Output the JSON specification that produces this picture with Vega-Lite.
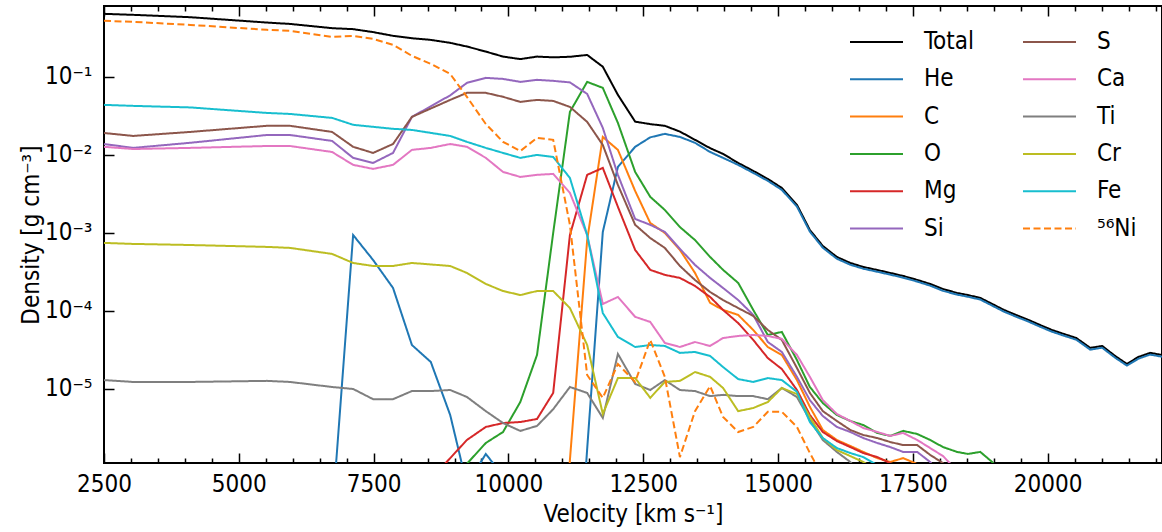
{
"$schema":"https://vega.github.io/schema/vega-lite/v6.json",
"autosize":{"type":"none"},
"padding":{"left":104,"top":6,"right":0,"bottom":69},
"width":1058,"height":457,
"config":{"view":{"stroke":"black","strokeWidth":2},"font":"DejaVu Sans Condensed, DejaVu Sans"},
"data":{"values":[
{"s":"Total","v":2500,"d":0.643},{"s":"Total","v":3040,"d":0.624},{"s":"Total","v":4100,"d":0.582},{"s":"Total","v":5520,"d":0.497},{"s":"Total","v":5950,"d":0.477},{"s":"Total","v":6730,"d":0.421},{"s":"Total","v":7120,"d":0.409},{"s":"Total","v":7490,"d":0.375},{"s":"Total","v":7860,"d":0.336},{"s":"Total","v":8210,"d":0.313},{"s":"Total","v":8560,"d":0.298},{"s":"Total","v":8920,"d":0.273},{"s":"Total","v":9230,"d":0.245},{"s":"Total","v":9580,"d":0.211},{"s":"Total","v":9900,"d":0.182},{"s":"Total","v":10220,"d":0.169},{"s":"Total","v":10530,"d":0.182},{"s":"Total","v":10830,"d":0.178},{"s":"Total","v":11140,"d":0.181},{"s":"Total","v":11460,"d":0.191},{"s":"Total","v":11750,"d":0.135},{"s":"Total","v":12030,"d":0.0588},{"s":"Total","v":12350,"d":0.0267},{"s":"Total","v":12630,"d":0.0248},{"s":"Total","v":12900,"d":0.0236},{"s":"Total","v":13180,"d":0.0199},{"s":"Total","v":13460,"d":0.0156},{"s":"Total","v":13740,"d":0.0122},{"s":"Total","v":13980,"d":0.0103},{"s":"Total","v":14260,"d":0.00789},{"s":"Total","v":14540,"d":0.00624},{"s":"Total","v":14810,"d":0.00492},{"s":"Total","v":15070,"d":0.00377},{"s":"Total","v":15350,"d":0.00229},{"s":"Total","v":15590,"d":0.00109},{"s":"Total","v":15830,"d":0.00068},{"s":"Total","v":16090,"d":0.000492},{"s":"Total","v":16340,"d":0.000412},{"s":"Total","v":16580,"d":0.000366},{"s":"Total","v":16840,"d":0.000335},{"s":"Total","v":17080,"d":0.000307},{"s":"Total","v":17320,"d":0.000281},{"s":"Total","v":17580,"d":0.00025},{"s":"Total","v":17820,"d":0.000222},{"s":"Total","v":18060,"d":0.000191},{"s":"Total","v":18320,"d":0.00017},{"s":"Total","v":18520,"d":0.00016},{"s":"Total","v":18750,"d":0.000147},{"s":"Total","v":18970,"d":0.000123},{"s":"Total","v":19190,"d":0.000103},{"s":"Total","v":19410,"d":0.000089},{"s":"Total","v":19640,"d":0.000077},{"s":"Total","v":19860,"d":0.000066},{"s":"Total","v":20080,"d":0.000057},{"s":"Total","v":20300,"d":0.0000507},{"s":"Total","v":20530,"d":0.000045},{"s":"Total","v":20790,"d":0.0000336},{"s":"Total","v":21010,"d":0.0000356},{"s":"Total","v":21250,"d":0.0000265},{"s":"Total","v":21470,"d":0.0000209},{"s":"Total","v":21680,"d":0.0000257},{"s":"Total","v":21900,"d":0.000029},{"s":"Total","v":22120,"d":0.0000273},
{"s":"He","v":6730,"d":2.3e-7},{"s":"He","v":7120,"d":9.4e-4},{"s":"He","v":7490,"d":4.5e-4},{"s":"He","v":7860,"d":1.97e-4},{"s":"He","v":8210,"d":3.66e-5},{"s":"He","v":8560,"d":2.22e-5},{"s":"He","v":8920,"d":4.64e-6},{"s":"He","v":9230,"d":5.9e-7},{"s":"He","v":9580,"d":1.47e-6},{"s":"He","v":9900,"d":7.7e-7},{"s":"He","v":11140,"d":1e-9},{"s":"He","v":11460,"d":1.7e-6},{"s":"He","v":11750,"d":1.03e-3},{"s":"He","v":12030,"d":0.007},{"s":"He","v":12350,"d":0.0127},{"s":"He","v":12630,"d":0.0168},{"s":"He","v":12900,"d":0.0186},{"s":"He","v":13180,"d":0.017},{"s":"He","v":13460,"d":0.0143},{"s":"He","v":13740,"d":0.0109},{"s":"He","v":13980,"d":0.00916},{"s":"He","v":14260,"d":0.00745},{"s":"He","v":14540,"d":0.00588},{"s":"He","v":14810,"d":0.00465},{"s":"He","v":15070,"d":0.00356},{"s":"He","v":15350,"d":0.00218},{"s":"He","v":15590,"d":0.00104},{"s":"He","v":15830,"d":0.000646},{"s":"He","v":16090,"d":0.000467},{"s":"He","v":16340,"d":0.000391},{"s":"He","v":16580,"d":0.000348},{"s":"He","v":16840,"d":0.000318},{"s":"He","v":17080,"d":0.000292},{"s":"He","v":17320,"d":0.000267},{"s":"He","v":17580,"d":0.000238},{"s":"He","v":17820,"d":0.000211},{"s":"He","v":18060,"d":0.000181},{"s":"He","v":18320,"d":0.000162},{"s":"He","v":18520,"d":0.000152},{"s":"He","v":18750,"d":0.00014},{"s":"He","v":18970,"d":0.000117},{"s":"He","v":19190,"d":0.0000979},{"s":"He","v":19410,"d":0.0000846},{"s":"He","v":19640,"d":0.0000732},{"s":"He","v":19860,"d":0.0000627},{"s":"He","v":20080,"d":0.0000542},{"s":"He","v":20300,"d":0.0000482},{"s":"He","v":20530,"d":0.0000428},{"s":"He","v":20790,"d":0.0000319},{"s":"He","v":21010,"d":0.0000338},{"s":"He","v":21250,"d":0.0000252},{"s":"He","v":21470,"d":0.0000199},{"s":"He","v":21680,"d":0.0000244},{"s":"He","v":21900,"d":0.0000276},{"s":"He","v":22120,"d":0.0000259},
{"s":"C","v":10830,"d":1e-9},{"s":"C","v":11140,"d":1.23e-6},{"s":"C","v":11460,"d":8.1e-4},{"s":"C","v":11750,"d":0.017},{"s":"C","v":12030,"d":0.0116},{"s":"C","v":12350,"d":0.00345},{"s":"C","v":12630,"d":0.00134},{"s":"C","v":12900,"d":0.001},{"s":"C","v":13180,"d":6.05e-4},{"s":"C","v":13460,"d":3.07e-4},{"s":"C","v":13740,"d":1.27e-4},{"s":"C","v":13980,"d":1.03e-4},{"s":"C","v":14260,"d":8.9e-5},{"s":"C","v":14540,"d":5.7e-5},{"s":"C","v":14810,"d":3.45e-5},{"s":"C","v":15070,"d":2.73e-5},{"s":"C","v":15350,"d":1.3e-5},{"s":"C","v":15590,"d":5.9e-6},{"s":"C","v":15830,"d":2.98e-6},{"s":"C","v":16090,"d":2.22e-6},{"s":"C","v":16340,"d":1.86e-6},{"s":"C","v":16580,"d":1.56e-6},{"s":"C","v":16840,"d":1.3e-6},{"s":"C","v":17080,"d":1.16e-6},{"s":"C","v":17320,"d":1.3e-6},{"s":"C","v":17580,"d":1.09e-6},{"s":"C","v":17820,"d":6.8e-7},{"s":"C","v":18060,"d":3e-7},
{"s":"O","v":8560,"d":1e-8},{"s":"O","v":8920,"d":6e-7},{"s":"O","v":9230,"d":1.1e-6},{"s":"O","v":9580,"d":2.03e-6},{"s":"O","v":9900,"d":2.81e-6},{"s":"O","v":10220,"d":6.8e-6},{"s":"O","v":10530,"d":2.73e-5},{"s":"O","v":10830,"d":1.0e-3},{"s":"O","v":11140,"d":0.0356},{"s":"O","v":11460,"d":0.0863},{"s":"O","v":11750,"d":0.0723},{"s":"O","v":12030,"d":0.0257},{"s":"O","v":12350,"d":0.00605},{"s":"O","v":12630,"d":0.0029},{"s":"O","v":12900,"d":0.00197},{"s":"O","v":13180,"d":0.00119},{"s":"O","v":13460,"d":8.1e-4},{"s":"O","v":13740,"d":4.92e-4},{"s":"O","v":13980,"d":3.36e-4},{"s":"O","v":14260,"d":2.29e-4},{"s":"O","v":14540,"d":1.03e-4},{"s":"O","v":14810,"d":4.92e-5},{"s":"O","v":15070,"d":5.38e-5},{"s":"O","v":15350,"d":2.35e-5},{"s":"O","v":15590,"d":1.06e-5},{"s":"O","v":15830,"d":6.6e-6},{"s":"O","v":16090,"d":4.64e-6},{"s":"O","v":16340,"d":3.89e-6},{"s":"O","v":16580,"d":3.45e-6},{"s":"O","v":16840,"d":2.73e-6},{"s":"O","v":17080,"d":2.5e-6},{"s":"O","v":17320,"d":2.9e-6},{"s":"O","v":17580,"d":2.65e-6},{"s":"O","v":17820,"d":2.22e-6},{"s":"O","v":18060,"d":1.8e-6},{"s":"O","v":18320,"d":1.56e-6},{"s":"O","v":18520,"d":1.47e-6},{"s":"O","v":18750,"d":1.56e-6},{"s":"O","v":18970,"d":1.16e-6},{"s":"O","v":19190,"d":7.5e-7},{"s":"O","v":19410,"d":3e-7},
{"s":"Mg","v":8560,"d":6.9e-7},{"s":"Mg","v":8920,"d":1.3e-6},{"s":"Mg","v":9230,"d":2.22e-6},{"s":"Mg","v":9580,"d":3.26e-6},{"s":"Mg","v":9900,"d":3.66e-6},{"s":"Mg","v":10220,"d":3.77e-6},{"s":"Mg","v":10530,"d":4.12e-6},{"s":"Mg","v":10830,"d":8.9e-6},{"s":"Mg","v":11140,"d":9.4e-4},{"s":"Mg","v":11460,"d":0.00555},{"s":"Mg","v":11750,"d":0.00681},{"s":"Mg","v":12030,"d":0.00216},{"s":"Mg","v":12350,"d":6.05e-4},{"s":"Mg","v":12630,"d":3.36e-4},{"s":"Mg","v":12900,"d":2.9e-4},{"s":"Mg","v":13180,"d":2.65e-4},{"s":"Mg","v":13460,"d":2.09e-4},{"s":"Mg","v":13740,"d":1.51e-4},{"s":"Mg","v":13980,"d":1.03e-4},{"s":"Mg","v":14260,"d":7.0e-5},{"s":"Mg","v":14540,"d":4.25e-5},{"s":"Mg","v":14810,"d":2.49e-5},{"s":"Mg","v":15070,"d":1.8e-5},{"s":"Mg","v":15350,"d":9.7e-6},{"s":"Mg","v":15590,"d":4.64e-6},{"s":"Mg","v":15830,"d":2.81e-6},{"s":"Mg","v":16090,"d":2.15e-6},{"s":"Mg","v":16340,"d":1.8e-6},{"s":"Mg","v":16580,"d":1.51e-6},{"s":"Mg","v":16840,"d":1.34e-6},{"s":"Mg","v":17080,"d":1.12e-6},{"s":"Mg","v":17320,"d":7.5e-7},
{"s":"Si","v":2500,"d":0.0138},{"s":"Si","v":3040,"d":0.0123},{"s":"Si","v":4100,"d":0.0143},{"s":"Si","v":5520,"d":0.018},{"s":"Si","v":5950,"d":0.018},{"s":"Si","v":6730,"d":0.0151},{"s":"Si","v":7120,"d":0.00916},{"s":"Si","v":7490,"d":0.00789},{"s":"Si","v":7860,"d":0.0106},{"s":"Si","v":8210,"d":0.0307},{"s":"Si","v":8920,"d":0.058},{"s":"Si","v":9230,"d":0.0838},{"s":"Si","v":9580,"d":0.0971},{"s":"Si","v":9900,"d":0.0942},{"s":"Si","v":10220,"d":0.0863},{"s":"Si","v":10530,"d":0.0916},{"s":"Si","v":10830,"d":0.0889},{"s":"Si","v":11140,"d":0.085},{"s":"Si","v":11460,"d":0.0605},{"s":"Si","v":11750,"d":0.0222},{"s":"Si","v":12030,"d":0.00555},{"s":"Si","v":12350,"d":0.00151},{"s":"Si","v":12630,"d":0.00127},{"s":"Si","v":12900,"d":0.00103},{"s":"Si","v":13180,"d":0.000624},{"s":"Si","v":13460,"d":0.000389},{"s":"Si","v":13740,"d":0.000265},{"s":"Si","v":13980,"d":0.000197},{"s":"Si","v":14260,"d":0.000138},{"s":"Si","v":14540,"d":0.000089},{"s":"Si","v":14810,"d":0.00004},{"s":"Si","v":15070,"d":0.0000298},{"s":"Si","v":15350,"d":0.0000143},{"s":"Si","v":15590,"d":0.0000072},{"s":"Si","v":15830,"d":0.0000045},{"s":"Si","v":16090,"d":0.00000326},{"s":"Si","v":16340,"d":0.00000281},{"s":"Si","v":16580,"d":0.00000235},{"s":"Si","v":16840,"d":0.00000203},{"s":"Si","v":17080,"d":0.0000018},{"s":"Si","v":17320,"d":0.00000156},{"s":"Si","v":17580,"d":0.00000156},{"s":"Si","v":17820,"d":0.00000116},{"s":"Si","v":18060,"d":0.00000071},
{"s":"S","v":2500,"d":0.0191},{"s":"S","v":3040,"d":0.0175},{"s":"S","v":4100,"d":0.0197},{"s":"S","v":5520,"d":0.0236},{"s":"S","v":5950,"d":0.0236},{"s":"S","v":6730,"d":0.0197},{"s":"S","v":7120,"d":0.0127},{"s":"S","v":7490,"d":0.0106},{"s":"S","v":7860,"d":0.0138},{"s":"S","v":8210,"d":0.0307},{"s":"S","v":8920,"d":0.0507},{"s":"S","v":9230,"d":0.0624},{"s":"S","v":9580,"d":0.0624},{"s":"S","v":9900,"d":0.0555},{"s":"S","v":10220,"d":0.0478},{"s":"S","v":10530,"d":0.0507},{"s":"S","v":10830,"d":0.0492},{"s":"S","v":11140,"d":0.0412},{"s":"S","v":11460,"d":0.0265},{"s":"S","v":11750,"d":0.0134},{"s":"S","v":12030,"d":0.00412},{"s":"S","v":12350,"d":0.00127},{"s":"S","v":12630,"d":0.00086},{"s":"S","v":12900,"d":0.000643},{"s":"S","v":13180,"d":0.000377},{"s":"S","v":13460,"d":0.000249},{"s":"S","v":13740,"d":0.000175},{"s":"S","v":13980,"d":0.000138},{"s":"S","v":14260,"d":0.000109},{"s":"S","v":14540,"d":0.0000863},{"s":"S","v":14810,"d":0.000057},{"s":"S","v":15070,"d":0.0000425},{"s":"S","v":15350,"d":0.0000186},{"s":"S","v":15590,"d":0.0000089},{"s":"S","v":15830,"d":0.0000052},{"s":"S","v":16090,"d":0.00000389},{"s":"S","v":16340,"d":0.00000298},{"s":"S","v":16580,"d":0.00000257},{"s":"S","v":16840,"d":0.00000235},{"s":"S","v":17080,"d":0.00000209},{"s":"S","v":17320,"d":0.00000191},{"s":"S","v":17580,"d":0.00000191},{"s":"S","v":17820,"d":0.00000143},{"s":"S","v":18060,"d":0.00000112},{"s":"S","v":18320,"d":0.00000068},
{"s":"Ca","v":2500,"d":0.0127},{"s":"Ca","v":3040,"d":0.0119},{"s":"Ca","v":4100,"d":0.0123},{"s":"Ca","v":5520,"d":0.013},{"s":"Ca","v":5950,"d":0.013},{"s":"Ca","v":6730,"d":0.0109},{"s":"Ca","v":7120,"d":0.00745},{"s":"Ca","v":7490,"d":0.00662},{"s":"Ca","v":7860,"d":0.00745},{"s":"Ca","v":8210,"d":0.0116},{"s":"Ca","v":8560,"d":0.0123},{"s":"Ca","v":8920,"d":0.0138},{"s":"Ca","v":9230,"d":0.0127},{"s":"Ca","v":9580,"d":0.00916},{"s":"Ca","v":9900,"d":0.00605},{"s":"Ca","v":10220,"d":0.00522},{"s":"Ca","v":10530,"d":0.00555},{"s":"Ca","v":10830,"d":0.00571},{"s":"Ca","v":11140,"d":0.00326},{"s":"Ca","v":11460,"d":0.00094},{"s":"Ca","v":11750,"d":0.000123},{"s":"Ca","v":12030,"d":0.000151},{"s":"Ca","v":12350,"d":0.000084},{"s":"Ca","v":12630,"d":0.0000723},{"s":"Ca","v":12900,"d":0.0000389},{"s":"Ca","v":13180,"d":0.0000345},{"s":"Ca","v":13460,"d":0.00004},{"s":"Ca","v":13740,"d":0.0000356},{"s":"Ca","v":13980,"d":0.000045},{"s":"Ca","v":14260,"d":0.0000478},{"s":"Ca","v":14540,"d":0.0000492},{"s":"Ca","v":14810,"d":0.0000478},{"s":"Ca","v":15070,"d":0.0000438},{"s":"Ca","v":15350,"d":0.0000273},{"s":"Ca","v":15590,"d":0.0000143},{"s":"Ca","v":15830,"d":0.0000072},{"s":"Ca","v":16090,"d":0.00000478},{"s":"Ca","v":16340,"d":0.00000389},{"s":"Ca","v":16580,"d":0.00000316},{"s":"Ca","v":16840,"d":0.00000281},{"s":"Ca","v":17080,"d":0.0000025},{"s":"Ca","v":17320,"d":0.00000273},{"s":"Ca","v":17580,"d":0.00000222},{"s":"Ca","v":17820,"d":0.00000175},{"s":"Ca","v":18060,"d":0.00000138},{"s":"Ca","v":18320,"d":0.00000089},
{"s":"Ti","v":2500,"d":1.3e-5},{"s":"Ti","v":3040,"d":1.23e-5},{"s":"Ti","v":4100,"d":1.23e-5},{"s":"Ti","v":5520,"d":1.27e-5},{"s":"Ti","v":5950,"d":1.23e-5},{"s":"Ti","v":6730,"d":1.06e-5},{"s":"Ti","v":7120,"d":1.0e-5},{"s":"Ti","v":7490,"d":7.4e-6},{"s":"Ti","v":7860,"d":7.4e-6},{"s":"Ti","v":8210,"d":9.4e-6},{"s":"Ti","v":8560,"d":9.4e-6},{"s":"Ti","v":8920,"d":9.7e-6},{"s":"Ti","v":9230,"d":7.9e-6},{"s":"Ti","v":9580,"d":5.2e-6},{"s":"Ti","v":9900,"d":3.66e-6},{"s":"Ti","v":10220,"d":2.9e-6},{"s":"Ti","v":10530,"d":3.36e-6},{"s":"Ti","v":10830,"d":5.5e-6},{"s":"Ti","v":11140,"d":1.06e-5},{"s":"Ti","v":11460,"d":8.9e-6},{"s":"Ti","v":11750,"d":4.25e-6},{"s":"Ti","v":12030,"d":2.81e-5},{"s":"Ti","v":12350,"d":1.16e-5},{"s":"Ti","v":12630,"d":9.7e-6},{"s":"Ti","v":12900,"d":1.3e-5},{"s":"Ti","v":13180,"d":9.7e-6},{"s":"Ti","v":13460,"d":9.4e-6},{"s":"Ti","v":13740,"d":8.1e-6},{"s":"Ti","v":13980,"d":8.4e-6},{"s":"Ti","v":14260,"d":8.1e-6},{"s":"Ti","v":14540,"d":8.1e-6},{"s":"Ti","v":14810,"d":7.4e-6},{"s":"Ti","v":15070,"d":1.03e-5},{"s":"Ti","v":15350,"d":7.9e-6},{"s":"Ti","v":15590,"d":4.0e-6},{"s":"Ti","v":15830,"d":2.22e-6},{"s":"Ti","v":16090,"d":1.56e-6},{"s":"Ti","v":16340,"d":1.16e-6},{"s":"Ti","v":16580,"d":7.5e-7},
{"s":"Cr","v":2500,"d":7.45e-4},{"s":"Cr","v":3040,"d":7.23e-4},{"s":"Cr","v":4100,"d":7.0e-4},{"s":"Cr","v":5520,"d":6.62e-4},{"s":"Cr","v":5950,"d":6.43e-4},{"s":"Cr","v":6730,"d":5.38e-4},{"s":"Cr","v":7120,"d":4.12e-4},{"s":"Cr","v":7490,"d":3.77e-4},{"s":"Cr","v":7860,"d":3.77e-4},{"s":"Cr","v":8210,"d":4.12e-4},{"s":"Cr","v":8920,"d":3.77e-4},{"s":"Cr","v":9230,"d":3.07e-4},{"s":"Cr","v":9580,"d":2.22e-4},{"s":"Cr","v":9900,"d":1.8e-4},{"s":"Cr","v":10220,"d":1.6e-4},{"s":"Cr","v":10530,"d":1.8e-4},{"s":"Cr","v":10830,"d":1.8e-4},{"s":"Cr","v":11140,"d":1.09e-4},{"s":"Cr","v":11460,"d":3.66e-5},{"s":"Cr","v":11750,"d":4.78e-6},{"s":"Cr","v":12030,"d":1.38e-5},{"s":"Cr","v":12350,"d":1.38e-5},{"s":"Cr","v":12630,"d":7.7e-6},{"s":"Cr","v":12900,"d":1.23e-5},{"s":"Cr","v":13180,"d":1.27e-5},{"s":"Cr","v":13460,"d":1.65e-5},{"s":"Cr","v":13740,"d":1.43e-5},{"s":"Cr","v":13980,"d":1.03e-5},{"s":"Cr","v":14260,"d":5.2e-6},{"s":"Cr","v":14540,"d":5.7e-6},{"s":"Cr","v":14810,"d":6.8e-6},{"s":"Cr","v":15070,"d":1.03e-5},{"s":"Cr","v":15350,"d":8.6e-6},{"s":"Cr","v":15590,"d":4.38e-6},{"s":"Cr","v":15830,"d":2.35e-6},{"s":"Cr","v":16090,"d":1.65e-6},{"s":"Cr","v":16340,"d":1.38e-6},{"s":"Cr","v":16580,"d":1.16e-6},{"s":"Cr","v":16840,"d":8.9e-7},
{"s":"Fe","v":2500,"d":0.0438},{"s":"Fe","v":3040,"d":0.0425},{"s":"Fe","v":4100,"d":0.0406},{"s":"Fe","v":5520,"d":0.0345},{"s":"Fe","v":5950,"d":0.0335},{"s":"Fe","v":6730,"d":0.0298},{"s":"Fe","v":7120,"d":0.0243},{"s":"Fe","v":7860,"d":0.0216},{"s":"Fe","v":8210,"d":0.0209},{"s":"Fe","v":8920,"d":0.0175},{"s":"Fe","v":9230,"d":0.0147},{"s":"Fe","v":9580,"d":0.0123},{"s":"Fe","v":9900,"d":0.0106},{"s":"Fe","v":10220,"d":0.00916},{"s":"Fe","v":10530,"d":0.01},{"s":"Fe","v":10830,"d":0.00942},{"s":"Fe","v":11140,"d":0.00507},{"s":"Fe","v":11460,"d":0.00094},{"s":"Fe","v":11750,"d":9.4e-5},{"s":"Fe","v":12030,"d":4.64e-5},{"s":"Fe","v":12350,"d":3.45e-5},{"s":"Fe","v":12630,"d":3.66e-5},{"s":"Fe","v":12900,"d":3.56e-5},{"s":"Fe","v":13180,"d":2.9e-5},{"s":"Fe","v":13460,"d":2.98e-5},{"s":"Fe","v":13740,"d":2.65e-5},{"s":"Fe","v":13980,"d":1.91e-5},{"s":"Fe","v":14260,"d":1.34e-5},{"s":"Fe","v":14540,"d":1.23e-5},{"s":"Fe","v":14810,"d":1.38e-5},{"s":"Fe","v":15070,"d":1.3e-5},{"s":"Fe","v":15350,"d":9.2e-6},{"s":"Fe","v":15590,"d":3.77e-6},{"s":"Fe","v":15830,"d":2.35e-6},{"s":"Fe","v":16090,"d":1.75e-6},{"s":"Fe","v":16340,"d":1.51e-6},{"s":"Fe","v":16580,"d":1.34e-6},{"s":"Fe","v":16840,"d":1.06e-6},{"s":"Fe","v":17080,"d":6.8e-7},
{"s":"⁵⁶Ni","v":2500,"d":0.523},{"s":"⁵⁶Ni","v":3040,"d":0.507},{"s":"⁵⁶Ni","v":4100,"d":0.464},{"s":"⁵⁶Ni","v":5520,"d":0.401},{"s":"⁵⁶Ni","v":5950,"d":0.389},{"s":"⁵⁶Ni","v":6730,"d":0.326},{"s":"⁵⁶Ni","v":7120,"d":0.336},{"s":"⁵⁶Ni","v":7490,"d":0.307},{"s":"⁵⁶Ni","v":7860,"d":0.257},{"s":"⁵⁶Ni","v":8210,"d":0.186},{"s":"⁵⁶Ni","v":8560,"d":0.147},{"s":"⁵⁶Ni","v":8920,"d":0.109},{"s":"⁵⁶Ni","v":9230,"d":0.0555},{"s":"⁵⁶Ni","v":9580,"d":0.0249},{"s":"⁵⁶Ni","v":9900,"d":0.0147},{"s":"⁵⁶Ni","v":10220,"d":0.0112},{"s":"⁵⁶Ni","v":10530,"d":0.0165},{"s":"⁵⁶Ni","v":10830,"d":0.0156},{"s":"⁵⁶Ni","v":11140,"d":0.00127},{"s":"⁵⁶Ni","v":11460,"d":1.51e-5},{"s":"⁵⁶Ni","v":11750,"d":7.7e-6},{"s":"⁵⁶Ni","v":12030,"d":2.09e-5},{"s":"⁵⁶Ni","v":12350,"d":1.23e-5},{"s":"⁵⁶Ni","v":12630,"d":4.25e-5},{"s":"⁵⁶Ni","v":12900,"d":1.43e-5},{"s":"⁵⁶Ni","v":13180,"d":1.34e-6},{"s":"⁵⁶Ni","v":13460,"d":5.2e-6},{"s":"⁵⁶Ni","v":13740,"d":1.09e-5},{"s":"⁵⁶Ni","v":13980,"d":4.38e-6},{"s":"⁵⁶Ni","v":14260,"d":2.81e-6},{"s":"⁵⁶Ni","v":14540,"d":3.26e-6},{"s":"⁵⁶Ni","v":14810,"d":5.1e-6},{"s":"⁵⁶Ni","v":15070,"d":5.1e-6},{"s":"⁵⁶Ni","v":15350,"d":3.26e-6},{"s":"⁵⁶Ni","v":15590,"d":1.51e-6},{"s":"⁵⁶Ni","v":15830,"d":7.5e-7},{"s":"⁵⁶Ni","v":16090,"d":3e-7}
]},
"layer":[
{"mark":{"type":"line","clip":true,"strokeWidth":2},
 "encoding":{
  "x":{"field":"v","type":"quantitative","title":"Velocity [km s⁻¹]",
   "scale":{"domain":[2500,22120],"nice":false,"zero":false},
   "axis":{"orient":"bottom","values":[2500,3000,3500,4000,4500,5000,5500,6000,6500,7000,7500,8000,8500,9000,9500,10000,10500,11000,11500,12000,12500,13000,13500,14000,14500,15000,15500,16000,16500,17000,17500,18000,18500,19000,19500,20000,20500,21000,21500,22000],
    "format":"d","labelExpr":"datum.value % 2500 === 0 ? datum.label : ''",
    "tickSize":{"condition":{"test":"datum.value % 2500 === 0","value":-10},"value":-5},
    "labelPadding":19,"domain":false,"grid":false,"labelOverlap":false,"labelFlush":false,"labelBound":false,
    "tickColor":"black","tickWidth":1.5,"labelFontSize":24,"labelColor":"black",
    "titleFontSize":24,"titleFontWeight":"normal","titleColor":"black","titlePadding":1}},
  "y":{"field":"d","type":"quantitative","title":"Density [g cm⁻³]",
   "scale":{"type":"log","domain":[1.125e-6,0.81],"nice":false},
   "axis":{"values":[1e-5,1e-4,1e-3,1e-2,1e-1],
    "labelExpr":"'10⁻' + ['⁰','¹','²','³','⁴','⁵','⁶'][round(-log(datum.value)/LN10)]",
    "tickSize":-10,"labelPadding":22,"domain":false,"grid":false,"labelOverlap":false,"labelFlush":false,"labelBound":false,
    "tickColor":"black","tickWidth":1.5,"labelFontSize":24,"labelColor":"black",
    "titleFontSize":24,"titleFontWeight":"normal","titleColor":"black","titlePadding":1}},
  "color":{"field":"s","type":"nominal",
   "scale":{"domain":["Total","He","C","O","Mg","Si","S","Ca","Ti","Cr","Fe","⁵⁶Ni"],
    "range":["#000000","#1f77b4","#ff7f0e","#2ca02c","#d62728","#9467bd","#8c564b","#e377c2","#7f7f7f","#bcbd22","#17becf","#ff7f0e"]},
   "legend":{"orient":"none","legendX":745,"legendY":24,"columns":2,"title":null,"symbolType":"stroke","symbolSize":2809,"symbolStrokeWidth":2,"clipHeight":24,"labelFontSize":24,"labelOffset":20,"rowPadding":13.3,"columnPadding":47,"padding":0,"labelColor":"black"}},
  "strokeDash":{"field":"s","type":"nominal",
   "scale":{"domain":["Total","He","C","O","Mg","Si","S","Ca","Ti","Cr","Fe","⁵⁶Ni"],
    "range":[[1,0],[1,0],[1,0],[1,0],[1,0],[1,0],[1,0],[1,0],[1,0],[1,0],[1,0],[7,3.5]]},
   "legend":{"orient":"none","legendX":745,"legendY":24,"columns":2,"title":null,"symbolType":"stroke","symbolSize":2809,"symbolStrokeWidth":2,"clipHeight":24,"labelFontSize":24,"labelOffset":20,"rowPadding":13.3,"columnPadding":47,"padding":0,"labelColor":"black"}}
 }},
{"mark":{"type":"point","opacity":0},
 "encoding":{
  "x":{"field":"v","type":"quantitative",
   "axis":{"orient":"top","title":null,"labels":false,"values":[2500,3000,3500,4000,4500,5000,5500,6000,6500,7000,7500,8000,8500,9000,9500,10000,10500,11000,11500,12000,12500,13000,13500,14000,14500,15000,15500,16000,16500,17000,17500,18000,18500,19000,19500,20000,20500,21000,21500,22000],
    "tickSize":{"condition":{"test":"datum.value % 2500 === 0","value":-10},"value":-5},
    "domain":false,"grid":false,"tickColor":"black","tickWidth":1.5}}
 }}
],
"resolve":{"axis":{"x":"independent"}}
}
